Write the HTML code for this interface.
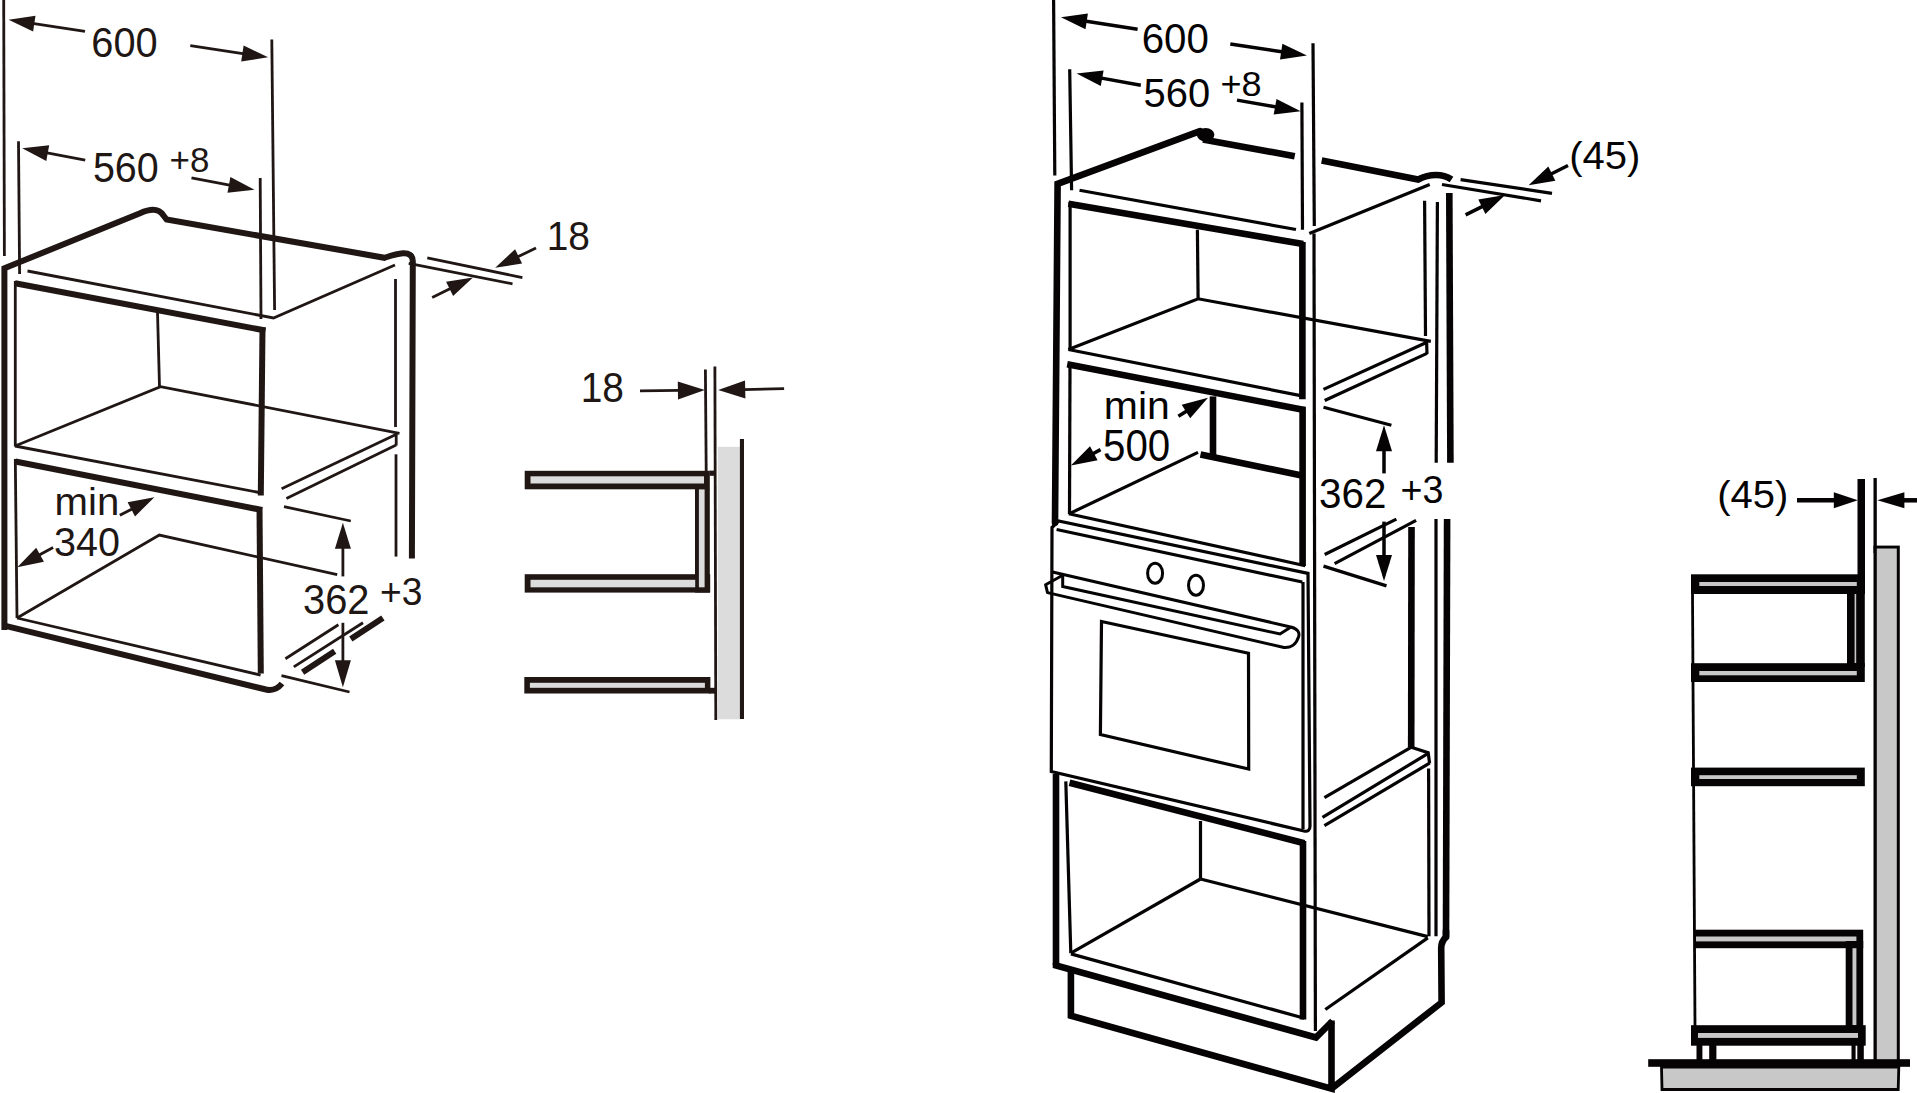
<!DOCTYPE html>
<html><head><meta charset="utf-8"><style>
html,body{margin:0;padding:0;background:#fff;}
svg{display:block;}
text{font-family:"Liberation Sans",sans-serif;stroke:none;}
</style></head><body>
<svg width="1917" height="1093" viewBox="0 0 1917 1093" stroke="#050303" fill="none">
<g stroke="#201715">
<line x1="3.7" y1="0" x2="4.4" y2="256" stroke-width="2.8" stroke-linecap="butt"/>
<line x1="85" y1="31.4" x2="32.3" y2="23.4" stroke-width="2.8" stroke-linecap="butt"/>
<polygon points="8.6,19.8 35.5,15.8 33.1,31.6" stroke="none" fill="#201715"/>
<text transform="translate(91.3,57.2) scale(0.949,1)" font-size="41.94" fill="#201715">600</text>
<line x1="190.3" y1="45.7" x2="244.4" y2="53.8" stroke-width="2.8" stroke-linecap="butt"/>
<polygon points="268.1,57.3 241.2,61.4 243.6,45.6" stroke="none" fill="#201715"/>
<line x1="271.8" y1="39.5" x2="274.6" y2="310" stroke-width="2.8" stroke-linecap="butt"/>
<line x1="18.5" y1="141.3" x2="19.6" y2="274" stroke-width="2.8" stroke-linecap="butt"/>
<line x1="85.2" y1="160.1" x2="45.8" y2="152.7" stroke-width="2.8" stroke-linecap="butt"/>
<polygon points="22.2,148.3 49.2,145.2 46.3,160.9" stroke="none" fill="#201715"/>
<text transform="translate(92.9,181.6) scale(0.947,1)" font-size="41.66" fill="#201715">560</text>
<text transform="translate(169.5,171.7) scale(0.982,1)" font-size="35.59" fill="#201715">+8</text>
<line x1="191.5" y1="177.9" x2="230.9" y2="185.3" stroke-width="2.8" stroke-linecap="butt"/>
<polygon points="254.5,189.8 227.5,192.8 230.4,177.1" stroke="none" fill="#201715"/>
<line x1="260.2" y1="177.9" x2="261" y2="319" stroke-width="2.8" stroke-linecap="butt"/>
<path d="M4.4,630 L4.4,268.3 L140,213.2 C145,211 149,209.8 153,209.8 C158,209.8 161.5,212.5 163.5,215.5 L166.6,219.5 L384.5,257.8 C390,256 396,253.8 403,253.3 C409,253 412.8,255.5 412.8,261 L411.9,558.6" stroke-width="6.0" stroke-linejoin="miter" stroke-linecap="butt" fill="none"/>
<path d="M4.4,625.6 L266,689.5 C272,690.8 278,688.5 282,683.5" stroke-width="6.0" stroke-linejoin="miter" stroke-linecap="butt" fill="none"/>
<polyline points="27.5,271 273.5,318 395,265" stroke-width="2.8" stroke-linejoin="miter" stroke-linecap="butt" fill="none"/>
<line x1="15" y1="283.3" x2="265.5" y2="330.5" stroke-width="6.0" stroke-linecap="butt"/>
<line x1="15.3" y1="281" x2="15.3" y2="446.5" stroke-width="2.8" stroke-linecap="butt"/>
<line x1="262.5" y1="327.5" x2="260.8" y2="495.5" stroke-width="6.0" stroke-linecap="butt"/>
<line x1="157.5" y1="312" x2="159.5" y2="387" stroke-width="2.8" stroke-linecap="butt"/>
<line x1="15" y1="446" x2="261.9" y2="493" stroke-width="2.8" stroke-linecap="butt"/>
<polyline points="15,446 160.5,386.6 399.5,433.4" stroke-width="2.8" stroke-linejoin="miter" stroke-linecap="butt" fill="none"/>
<line x1="396.2" y1="433.8" x2="396.2" y2="445.5" stroke-width="2.8" stroke-linecap="butt"/>
<line x1="397" y1="434" x2="281.6" y2="488.8" stroke-width="2.8" stroke-linecap="butt"/>
<line x1="396.2" y1="445" x2="286.4" y2="498.4" stroke-width="2.8" stroke-linecap="butt"/>
<line x1="15.3" y1="461.5" x2="262" y2="510" stroke-width="6.0" stroke-linecap="butt"/>
<line x1="15.3" y1="459" x2="17" y2="618" stroke-width="2.8" stroke-linecap="butt"/>
<line x1="259.5" y1="507" x2="260.8" y2="673.5" stroke-width="6.0" stroke-linecap="butt"/>
<line x1="17" y1="618" x2="260.6" y2="675.1" stroke-width="2.8" stroke-linecap="butt"/>
<polyline points="17,618 159.3,535.1 337.2,574.6" stroke-width="2.8" stroke-linejoin="miter" stroke-linecap="butt" fill="none"/>
<line x1="395.5" y1="279" x2="395.5" y2="427" stroke-width="2.8" stroke-linecap="butt"/>
<line x1="396" y1="454.3" x2="396" y2="556.6" stroke-width="2.8" stroke-linecap="butt"/>
<line x1="284" y1="506.7" x2="350.8" y2="521" stroke-width="2.8" stroke-linecap="butt"/>
<line x1="281.5" y1="675.7" x2="349.5" y2="692" stroke-width="2.8" stroke-linecap="butt"/>
<line x1="342.9" y1="576.4" x2="342.9" y2="546.8" stroke-width="2.8" stroke-linecap="butt"/>
<polygon points="342.9,522.8 350.9,548.8 334.9,548.8" stroke="none" fill="#201715"/>
<line x1="342.9" y1="622.8" x2="342.9" y2="662.2" stroke-width="2.8" stroke-linecap="butt"/>
<polygon points="342.9,687.2 334.9,660.2 350.9,660.2" stroke="none" fill="#201715"/>
<text transform="translate(303,614.2) scale(0.957,1)" font-size="41.66" fill="#201715">362</text>
<text transform="translate(380,604.5) scale(0.950,1)" font-size="39.17" fill="#201715">+3</text>
<line x1="285.4" y1="658.7" x2="338.4" y2="624.8" stroke-width="2.8" stroke-linecap="butt"/>
<line x1="293.8" y1="666.9" x2="363" y2="622.8" stroke-width="2.8" stroke-linecap="butt"/>
<line x1="302.6" y1="672.2" x2="334.7" y2="651.2" stroke-width="6.0" stroke-linecap="butt"/>
<line x1="350.8" y1="638.9" x2="382.9" y2="617.9" stroke-width="6.0" stroke-linecap="butt"/>
<text transform="translate(54.6,515.3) scale(1.035,1)" font-size="38.83" fill="#201715">min</text>
<text transform="translate(54,555.6) scale(0.962,1)" font-size="41.08" fill="#201715">340</text>
<line x1="119.8" y1="515.3" x2="133.1" y2="508.4" stroke-width="2.8" stroke-linecap="butt"/>
<polygon points="154.4,497.3 135,516.4 127.6,502.2" stroke="none" fill="#201715"/>
<line x1="53.1" y1="547.5" x2="38.3" y2="555.6" stroke-width="2.8" stroke-linecap="butt"/>
<polygon points="17.3,567.2 36.2,547.7 43.9,561.7" stroke="none" fill="#201715"/>
<line x1="408.7" y1="263.3" x2="512.5" y2="283.8" stroke-width="2.8" stroke-linecap="butt"/>
<line x1="427.3" y1="257.8" x2="522.4" y2="277.6" stroke-width="2.8" stroke-linecap="butt"/>
<line x1="432.2" y1="297.4" x2="451.4" y2="288.1" stroke-width="2.8" stroke-linecap="butt"/>
<polygon points="473,277.6 453.1,296.1 446.1,281.8" stroke="none" fill="#201715"/>
<line x1="536" y1="248" x2="516.8" y2="257.3" stroke-width="2.8" stroke-linecap="butt"/>
<polygon points="495.2,267.7 515.1,249.2 522.1,263.6" stroke="none" fill="#201715"/>
<text transform="translate(546.7,250.2) scale(0.941,1)" font-size="41.37" fill="#201715">18</text>
<text transform="translate(580.7,402.4) scale(0.928,1)" font-size="41.94" fill="#201715">18</text>
<line x1="640" y1="390.8" x2="679.9" y2="390.4" stroke-width="2.8" stroke-linecap="butt"/>
<polygon points="704.9,390.1 678,399.4 677.8,381.4" stroke="none" fill="#201715"/>
<line x1="784.1" y1="388.7" x2="743.2" y2="389.6" stroke-width="2.8" stroke-linecap="butt"/>
<polygon points="718.2,390.1 745,380.5 745.4,398.5" stroke="none" fill="#201715"/>
<line x1="705.4" y1="369.6" x2="706.2" y2="471" stroke-width="2.8" stroke-linecap="butt"/>
<line x1="714.9" y1="366.5" x2="715.8" y2="720" stroke-width="2.8" stroke-linecap="butt"/>
<rect x="717.8" y="446.8" width="22.1" height="272.5" fill="#dcdcdc" stroke="none"/>
<rect x="739.9" y="439" width="4.1" height="280" fill="#201715" stroke="none"/>
<rect x="524.7" y="470.8" width="185.1" height="18.5" fill="#201715" stroke="none"/>
<rect x="709.5" y="470.6" width="5.1" height="5.2" fill="#201715" stroke="none"/>
<rect x="695" y="489" width="14.8" height="103.6" fill="#201715" stroke="none"/>
<rect x="524.7" y="574.2" width="185.5" height="18.4" fill="#201715" stroke="none"/>
<rect x="530.5" y="476.3" width="173.5" height="7.2" fill="#dcdcdc" stroke="none"/>
<rect x="698.9" y="489.4" width="5.7" height="97.9" fill="#dcdcdc" stroke="none"/>
<rect x="530.5" y="579.8" width="164.7" height="7.5" fill="#dcdcdc" stroke="none"/>
<rect x="524.3" y="677" width="186.1" height="16.5" fill="#201715" stroke="none"/>
<rect x="529.9" y="682.8" width="175" height="5" fill="#dcdcdc" stroke="none"/>
<rect x="709" y="687.8" width="6.5" height="5.8" fill="#201715" stroke="none"/>
</g>
<g stroke="#050303">
<line x1="1053.6" y1="0" x2="1054.8" y2="175.4" stroke-width="3.2" stroke-linecap="butt"/>
<line x1="1137.6" y1="29.2" x2="1084.7" y2="21" stroke-width="3.5" stroke-linecap="butt"/>
<polygon points="1061,17.3 1087.9,13.4 1085.5,29.2" stroke="none" fill="#050303"/>
<text transform="translate(1141.7,53.4) scale(0.961,1)" font-size="41.94" fill="#050303">600</text>
<line x1="1230.3" y1="44" x2="1283.2" y2="52" stroke-width="3.5" stroke-linecap="butt"/>
<polygon points="1306.9,55.6 1280,59.6 1282.4,43.8" stroke="none" fill="#050303"/>
<line x1="1313" y1="43.2" x2="1314.3" y2="226.1" stroke-width="3.2" stroke-linecap="butt"/>
<line x1="1069.7" y1="69.2" x2="1071.6" y2="190.3" stroke-width="3.2" stroke-linecap="butt"/>
<line x1="1140.8" y1="85.2" x2="1100.2" y2="77.9" stroke-width="3.5" stroke-linecap="butt"/>
<polygon points="1076.6,73.6 1103.6,70.4 1100.8,86.1" stroke="none" fill="#050303"/>
<text transform="translate(1143.6,106.8) scale(0.972,1)" font-size="41.08" fill="#050303">560</text>
<text transform="translate(1220.4,95.9) scale(1.008,1)" font-size="35.81" fill="#050303">+8</text>
<line x1="1237" y1="100.1" x2="1277.1" y2="107.1" stroke-width="3.5" stroke-linecap="butt"/>
<polygon points="1300.7,111.2 1273.7,114.6 1276.5,98.9" stroke="none" fill="#050303"/>
<line x1="1301.9" y1="102.5" x2="1302.5" y2="229.8" stroke-width="3.2" stroke-linecap="butt"/>
<path d="M1055,522.8 L1057.6,183.8 L1200,131.2" stroke-width="6.6" stroke-linejoin="miter" stroke-linecap="round" fill="none"/>
<ellipse cx="1205.6" cy="134.8" rx="8.8" ry="6.8" fill="#050303" stroke="none"/>
<line x1="1203" y1="139.5" x2="1294.7" y2="156.2" stroke-width="6.6" stroke-linecap="butt"/>
<path d="M1321.7,160.6 L1418.1,179.5 C1424,176.5 1430,175 1436,175 C1442,175 1447,176.5 1451.5,179.5" stroke-width="6.6" stroke-linejoin="miter" stroke-linecap="butt" fill="none"/>
<line x1="1449.3" y1="193.1" x2="1450.4" y2="462.8" stroke-width="6.6" stroke-linecap="butt"/>
<line x1="1447.1" y1="519.1" x2="1446" y2="937" stroke-width="6.6" stroke-linecap="butt"/>
<line x1="1079.5" y1="190.3" x2="1296" y2="229.5" stroke-width="3.2" stroke-linecap="butt"/>
<line x1="1309.3" y1="233.5" x2="1429.7" y2="184.5" stroke-width="3.2" stroke-linecap="butt"/>
<line x1="1442" y1="184.5" x2="1541" y2="200.8" stroke-width="3.2" stroke-linecap="butt"/>
<line x1="1460.6" y1="179.6" x2="1552" y2="193.4" stroke-width="3.2" stroke-linecap="butt"/>
<line x1="1465.6" y1="214.9" x2="1483.6" y2="205.9" stroke-width="3.5" stroke-linecap="butt"/>
<polygon points="1505.1,195.1 1485.4,213.9 1478.3,199.6" stroke="none" fill="#050303"/>
<line x1="1568" y1="165.5" x2="1550.1" y2="174.5" stroke-width="3.5" stroke-linecap="butt"/>
<polygon points="1528.6,185.2 1548.3,166.4 1555.4,180.7" stroke="none" fill="#050303"/>
<text transform="translate(1569.3,169.3) scale(1.021,1)" font-size="39.18" fill="#050303">(45)</text>
<line x1="1068.4" y1="203.7" x2="1303.2" y2="244" stroke-width="6.6" stroke-linecap="butt"/>
<line x1="1070.1" y1="202" x2="1070.1" y2="349.5" stroke-width="3.2" stroke-linecap="butt"/>
<line x1="1302.4" y1="242" x2="1302.4" y2="399.3" stroke-width="6.6" stroke-linecap="butt"/>
<line x1="1197.4" y1="229.7" x2="1198.1" y2="298.8" stroke-width="3.2" stroke-linecap="butt"/>
<line x1="1068.4" y1="349.5" x2="1304.4" y2="396.4" stroke-width="3.2" stroke-linecap="butt"/>
<polyline points="1068.4,349.5 1198.1,298.8 1430.8,341.4" stroke-width="3.2" stroke-linejoin="miter" stroke-linecap="butt" fill="none"/>
<line x1="1426.6" y1="341.6" x2="1427" y2="354" stroke-width="3.2" stroke-linecap="butt"/>
<line x1="1427.5" y1="342" x2="1323.5" y2="389.4" stroke-width="3.2" stroke-linecap="butt"/>
<line x1="1427" y1="353.4" x2="1324.7" y2="400.5" stroke-width="3.2" stroke-linecap="butt"/>
<line x1="1067.2" y1="364.3" x2="1304.4" y2="410" stroke-width="6.6" stroke-linecap="butt"/>
<line x1="1070" y1="364" x2="1069.5" y2="514" stroke-width="3.2" stroke-linecap="butt"/>
<line x1="1302.6" y1="406.7" x2="1302.6" y2="566" stroke-width="6.6" stroke-linecap="butt"/>
<line x1="1213" y1="396.4" x2="1213" y2="455" stroke-width="6.6" stroke-linecap="butt"/>
<line x1="1200.5" y1="454.6" x2="1300.6" y2="475.2" stroke-width="6.6" stroke-linecap="butt"/>
<line x1="1069.5" y1="513.6" x2="1198" y2="452.4" stroke-width="3.2" stroke-linecap="butt"/>
<line x1="1068.8" y1="513.8" x2="1305.2" y2="565.7" stroke-width="3.2" stroke-linecap="butt"/>
<text transform="translate(1103.8,418.5) scale(1.042,1)" font-size="39.33" fill="#050303">min</text>
<text transform="translate(1103,461) scale(0.916,1)" font-size="43.98" fill="#050303">500</text>
<line x1="1178.4" y1="416.2" x2="1187.6" y2="410.4" stroke-width="3.5" stroke-linecap="butt"/>
<polygon points="1208,397.7 1190.2,418.3 1181.7,404.7" stroke="none" fill="#050303"/>
<line x1="1100.5" y1="449.6" x2="1092" y2="454.2" stroke-width="3.5" stroke-linecap="butt"/>
<polygon points="1070.9,465.6 1090,446.2 1097.6,460.3" stroke="none" fill="#050303"/>
<line x1="1323.5" y1="407.2" x2="1391.4" y2="425.2" stroke-width="3.2" stroke-linecap="butt"/>
<line x1="1384" y1="473.4" x2="1384" y2="449.2" stroke-width="3.5" stroke-linecap="butt"/>
<polygon points="1384,425.2 1392,451.2 1376,451.2" stroke="none" fill="#050303"/>
<text transform="translate(1319,507.8) scale(0.937,1)" font-size="43.12" fill="#050303">362</text>
<text transform="translate(1400.6,503.3) scale(0.954,1)" font-size="39.41" fill="#050303">+3</text>
<line x1="1384" y1="521.6" x2="1384" y2="556.9" stroke-width="3.5" stroke-linecap="butt"/>
<polygon points="1384,580.9 1376,554.9 1392,554.9" stroke="none" fill="#050303"/>
<line x1="1323.5" y1="566.1" x2="1386.5" y2="585.9" stroke-width="3.2" stroke-linecap="butt"/>
<line x1="1324.7" y1="554.5" x2="1396.4" y2="519.1" stroke-width="3.2" stroke-linecap="butt"/>
<line x1="1334.6" y1="563.6" x2="1416.1" y2="520.4" stroke-width="3.2" stroke-linecap="butt"/>
<line x1="1424.6" y1="200.8" x2="1425.5" y2="336" stroke-width="3.2" stroke-linecap="butt"/>
<line x1="1437.4" y1="202.1" x2="1436.2" y2="462.8" stroke-width="3.2" stroke-linecap="butt"/>
<line x1="1436" y1="519.1" x2="1436" y2="936.3" stroke-width="3.2" stroke-linecap="butt"/>
<line x1="1411.5" y1="527" x2="1411.2" y2="747.3" stroke-width="6.6" stroke-linecap="butt"/>
<line x1="1314" y1="233.4" x2="1315.4" y2="1031" stroke-width="3.2" stroke-linecap="butt"/>
<path d="M1051.3,771.5 L1052,527.5 L1058.5,521 L1308,573.4 L1310,826 C1310,830 1308,832 1304,831 Z" stroke-width="3.2" stroke-linejoin="miter" stroke-linecap="butt" fill="none"/>
<line x1="1056.6" y1="529.5" x2="1302.3" y2="582" stroke-width="3.2" stroke-linecap="butt"/>
<line x1="1303" y1="582" x2="1303" y2="829" stroke-width="3.2" stroke-linecap="butt"/>
<ellipse cx="1155.1" cy="573.2" rx="7.5" ry="10" stroke-width="3" fill="none"/>
<ellipse cx="1196" cy="585.2" rx="7.5" ry="10" stroke-width="3" fill="none"/>
<path d="M1052.5,572 L1291.7,627.2 C1298,629 1300,633 1298.5,637 C1296,645 1290,648 1284,647.5 L1047.5,592.6 L1045.6,584.7 L1062.7,575.2" stroke-width="3.0" stroke-linejoin="round" stroke-linecap="butt" fill="none"/>
<path d="M1062.7,575.2 L1062.7,586.5 L1280,634 L1291,627" stroke-width="3.0" stroke-linejoin="miter" stroke-linecap="butt" fill="none"/>
<polygon points="1101.5,621.5 1248.5,653.2 1248.7,769.1 1100.4,734.5" stroke-width="3.2" stroke-linejoin="miter" stroke-linecap="butt" fill="none"/>
<line x1="1056" y1="774" x2="1056" y2="965" stroke-width="6.6" stroke-linecap="butt"/>
<line x1="1065.8" y1="781.4" x2="1070.8" y2="953.2" stroke-width="3.2" stroke-linecap="butt"/>
<line x1="1069.5" y1="782.7" x2="1304.3" y2="843.2" stroke-width="6.6" stroke-linecap="butt"/>
<line x1="1303" y1="841" x2="1303" y2="1019.4" stroke-width="6.6" stroke-linecap="butt"/>
<line x1="1200.5" y1="821" x2="1200.5" y2="879" stroke-width="3.2" stroke-linecap="butt"/>
<line x1="1200.5" y1="879" x2="1070.8" y2="953.2" stroke-width="3.2" stroke-linecap="butt"/>
<line x1="1200.5" y1="879" x2="1427.8" y2="936.6" stroke-width="3.2" stroke-linecap="butt"/>
<line x1="1070.9" y1="953.9" x2="1304.3" y2="1018.2" stroke-width="3.2" stroke-linecap="butt"/>
<polyline points="1410.5,747 1428.2,752.6 1429.6,763.5" stroke-width="3.2" stroke-linejoin="miter" stroke-linecap="butt" fill="none"/>
<line x1="1411" y1="747.3" x2="1324.4" y2="797.7" stroke-width="3.2" stroke-linecap="butt"/>
<line x1="1427.8" y1="753.6" x2="1322.5" y2="817.4" stroke-width="3.2" stroke-linecap="butt"/>
<line x1="1429.6" y1="763.1" x2="1324.4" y2="825.6" stroke-width="3.2" stroke-linecap="butt"/>
<line x1="1428.6" y1="768.4" x2="1429" y2="936.3" stroke-width="3.2" stroke-linecap="butt"/>
<path d="M1056,963 L1056,965.5 L1316,1037.5 L1332.5,1021" stroke-width="6.6" stroke-linejoin="miter" stroke-linecap="butt" fill="none"/>
<polyline points="1070.9,968 1070.9,1015.7 1331.5,1088.6 1331.5,1020.6" stroke-width="6.6" stroke-linejoin="miter" stroke-linecap="butt" fill="none"/>
<path d="M1331.5,1088.6 L1441.6,1002.5 L1441.2,948 Q1441.3,941.5 1446,937 L1446,930" stroke-width="6.6" stroke-linejoin="miter" stroke-linecap="butt" fill="none"/>
<line x1="1325.3" y1="1009.5" x2="1427.8" y2="937.9" stroke-width="3.2" stroke-linecap="butt"/>
<text transform="translate(1717.3,508.2) scale(1.032,1)" font-size="38.76" fill="#050303">(45)</text>
<line x1="1797" y1="500.3" x2="1835.8" y2="500.3" stroke-width="4.5" stroke-linecap="butt"/>
<polygon points="1857.8,500.3 1833.8,508.3 1833.8,492.3" stroke="none" fill="#050303"/>
<line x1="1917" y1="500.3" x2="1902.4" y2="500.3" stroke-width="4.5" stroke-linecap="butt"/>
<polygon points="1877.4,500.3 1904.4,492.3 1904.4,508.3" stroke="none" fill="#050303"/>
<rect x="1857.5" y="479" width="7.5" height="115" fill="#050303" stroke="none"/>
<rect x="1873.5" y="478" width="3.3" height="75" fill="#050303" stroke="none"/>
<rect x="1873.5" y="545.6" width="26.3" height="514.4" fill="#050303" stroke="none"/>
<rect x="1876.8" y="548.5" width="20" height="511.5" fill="#c8c8c8" stroke="none"/>
<rect x="1691" y="574.3" width="173.8" height="19.7" fill="#050303" stroke="none"/>
<rect x="1699.3" y="582" width="157.5" height="4" fill="#c8c8c8" stroke="none"/>
<rect x="1847" y="594" width="17.8" height="73" fill="#050303" stroke="none"/>
<rect x="1854.6" y="594" width="1.6" height="69" fill="#c8c8c8" stroke="none"/>
<rect x="1691" y="663.2" width="173.8" height="18.8" fill="#050303" stroke="none"/>
<rect x="1699.3" y="671" width="157.5" height="4.3" fill="#c8c8c8" stroke="none"/>
<rect x="1691" y="767.6" width="173.8" height="18.6" fill="#050303" stroke="none"/>
<rect x="1699.3" y="775.2" width="157.5" height="3.8" fill="#c8c8c8" stroke="none"/>
<rect x="1694" y="929.7" width="169.2" height="18.5" fill="#050303" stroke="none"/>
<rect x="1696" y="936.5" width="160.4" height="4.9" fill="#c8c8c8" stroke="none"/>
<rect x="1845.7" y="941" width="17.5" height="89" fill="#050303" stroke="none"/>
<rect x="1852.5" y="948.2" width="3.9" height="77" fill="#c8c8c8" stroke="none"/>
<rect x="1691" y="1025.2" width="174.7" height="20.5" fill="#050303" stroke="none"/>
<rect x="1698" y="1033" width="160" height="4.9" fill="#c8c8c8" stroke="none"/>
<line x1="1692.5" y1="594" x2="1695" y2="1026" stroke-width="2.8" stroke-linecap="butt"/>
<rect x="1696.5" y="1045" width="5.9" height="15" fill="#050303" stroke="none"/>
<rect x="1709.2" y="1045" width="7.2" height="15" fill="#050303" stroke="none"/>
<rect x="1851.5" y="1045" width="4.1" height="15" fill="#050303" stroke="none"/>
<rect x="1857.3" y="1045" width="6.5" height="15" fill="#050303" stroke="none"/>
<rect x="1648.2" y="1059.2" width="261.8" height="7.6" fill="#050303" stroke="none"/>
<polygon points="1661.5,1067 1898.8,1067 1898.2,1089.5 1662,1089.5" fill="#c8c8c8" stroke="#050303" stroke-width="2.8"/>
</g>
</svg>
</body></html>
